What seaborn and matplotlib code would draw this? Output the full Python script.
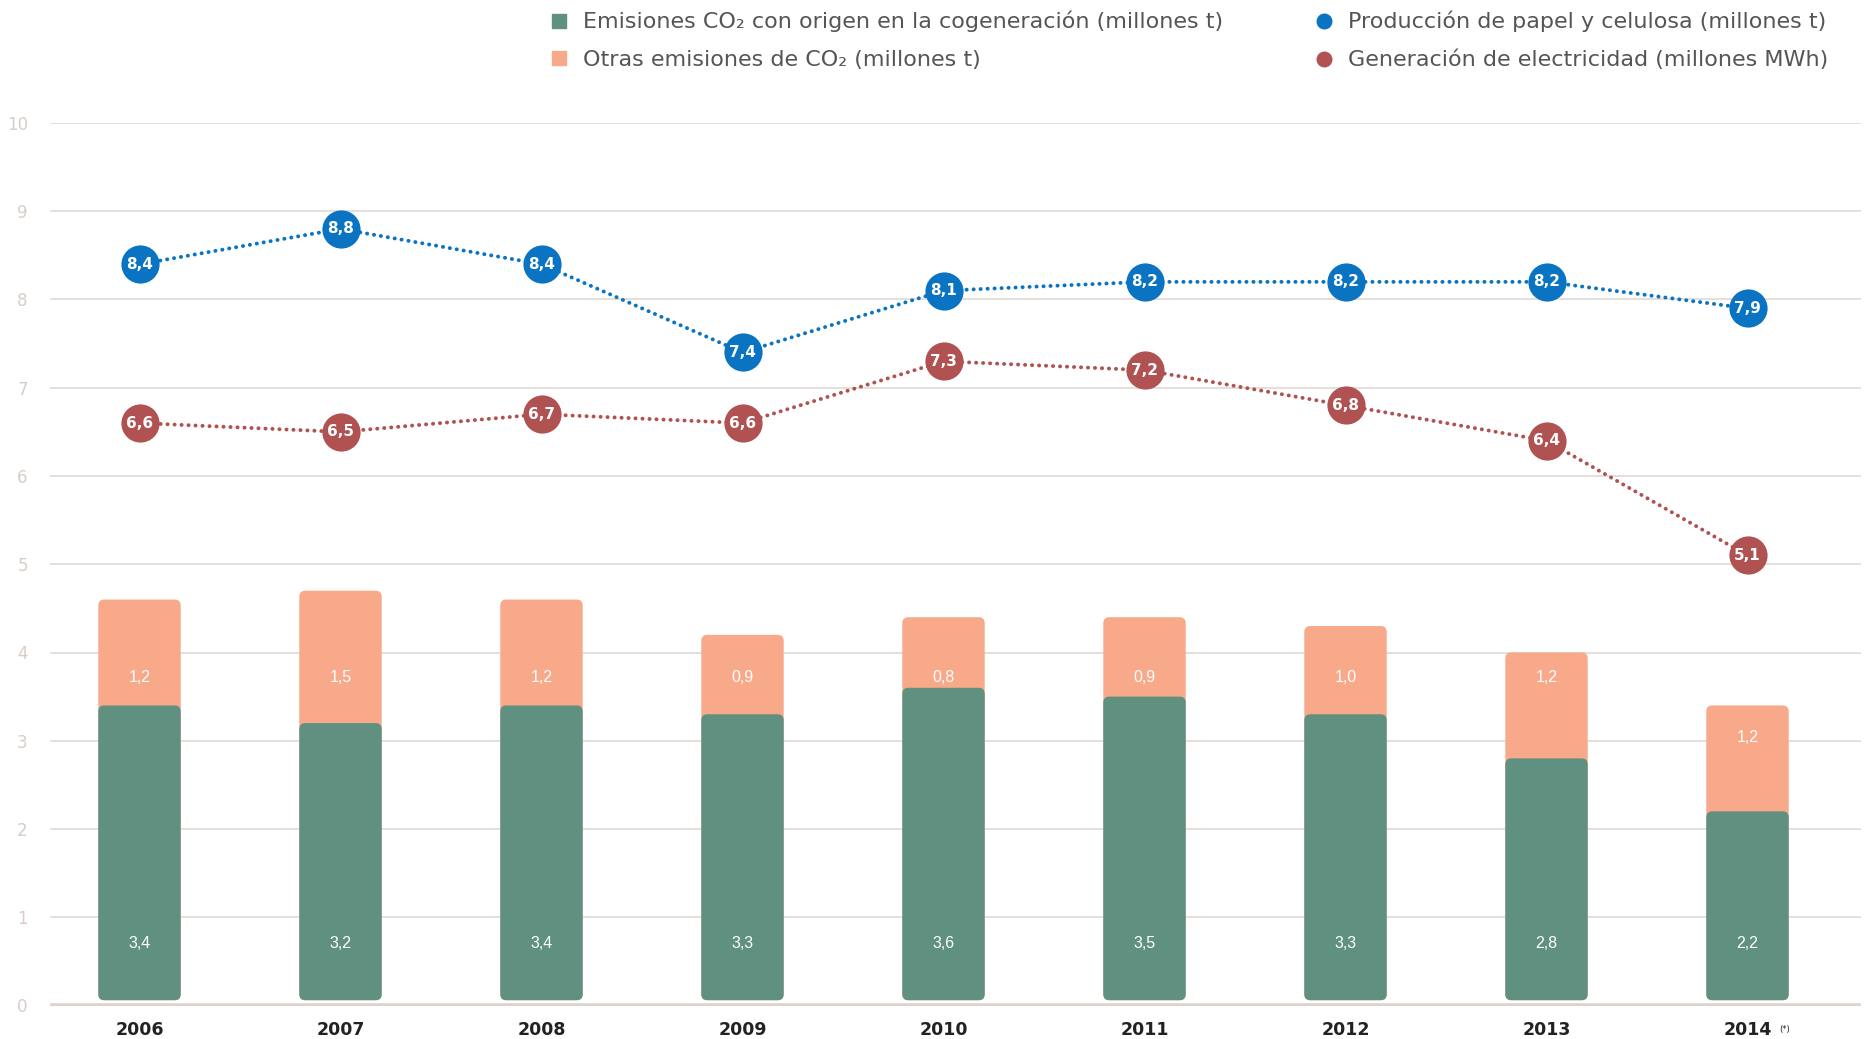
import numpy as np
import pandas as pd
import matplotlib
matplotlib.use("Agg")
import matplotlib.pyplot as plt
import seaborn as sns
from matplotlib.patches import FancyBboxPatch
from matplotlib.lines import Line2D

# ---- data ----
years = ["2006", "2007", "2008", "2009", "2010", "2011", "2012", "2013", "2014"]
cogen = [3.4, 3.2, 3.4, 3.3, 3.6, 3.5, 3.3, 2.8, 2.2]
otras = [1.2, 1.5, 1.2, 0.9, 0.8, 0.9, 1.0, 1.2, 1.2]
papel = [8.4, 8.8, 8.4, 7.4, 8.1, 8.2, 8.2, 8.2, 7.9]
electr = [6.6, 6.5, 6.7, 6.6, 7.3, 7.2, 6.8, 6.4, 5.1]
yticks = [0, 1, 2, 3, 4, 5, 6, 7, 8, 9, 10]
legend_labels = [
    "Emisiones CO₂ con origen en la cogeneración (millones t)",
    "Otras emisiones de CO₂ (millones t)",
    "Producción de papel y celulosa (millones t)",
    "Generación de electricidad (millones MWh)",
]

GREEN = "#5f9080"
SALMON = "#f7a98a"
BLUE = "#0a74c2"
RED = "#b15252"
GRID = "#e4dbd7"

sns.set_theme(style="white")
plt.rcParams["font.family"] = ["DejaVu Sans"]

W, H = 1870, 1039
fig = plt.figure(figsize=(W / 100, H / 100), dpi=100)
y0_px, y10_px = 1005.5, 123
left_px, right_px = 50, 1861
ax = fig.add_axes([left_px / W, 1 - y0_px / H, (right_px - left_px) / W, (y0_px - y10_px) / H])

df = pd.DataFrame({"year": years, "cogen": cogen, "otras": otras,
                   "papel": papel, "electr": electr})
df["total"] = df["cogen"] + df["otras"]
df["pos"] = np.arange(len(df))

sns.barplot(data=df, x="year", y="total", color=SALMON, saturation=1, width=0.41,
            ax=ax, zorder=2)
sns.barplot(data=df, x="year", y="cogen", color=GREEN, saturation=1, width=0.41,
            ax=ax, zorder=3)

# round bar corners
first_x = 139.5
step = 201.0
ppu_y = (y0_px - y10_px) / 10
rx = 6 / step
ry = 6 / ppu_y
for p in list(ax.patches):
    x, y, w, h = p.get_x(), p.get_y(), p.get_width(), p.get_height()
    fb = FancyBboxPatch((x, y + 0.06), w, h - 0.06, boxstyle=f"round,pad=0,rounding_size={rx}",
                        mutation_aspect=ry / rx, facecolor=p.get_facecolor(),
                        edgecolor="none", zorder=p.get_zorder())
    p.remove()
    ax.add_patch(fb)

# lines
for col, color in (("electr", RED), ("papel", BLUE)):
    sns.lineplot(data=df, x="pos", y=col, color=color, ax=ax, lw=2.8,
                 linestyle=(0, (0.05, 1.75)), dash_capstyle="round",
                 marker="o", markersize=27.5, markeredgewidth=0, zorder=5,
                 legend=False)
    for xi, v in zip(df["pos"], df[col]):
        ax.text(xi, v, f"{v:.1f}".replace(".", ","), ha="center", va="center",
                color="white", fontsize=11, fontweight="bold",
                family=["Liberation Sans Narrow", "DejaVu Sans"], zorder=6)

# bar labels
for xi, c, o, t in zip(df["pos"], cogen, otras, df["total"]):
    ax.text(xi, 0.7, f"{c:.1f}".replace(".", ","), ha="center", va="center",
            color="white", fontsize=11.5, family=["Liberation Sans", "DejaVu Sans"], zorder=7)
    ax.text(xi, 3.72 if t >= 3.9 else t - 0.36, f"{o:.1f}".replace(".", ","), ha="center",
            va="center", color="white", fontsize=11.5,
            family=["Liberation Sans", "DejaVu Sans"], zorder=7)

ax.set_xlim(-(first_x - left_px) / step, 8 + (right_px - (first_x + 8 * step)) / step)
ax.set_ylim(0, 10)
ax.set_yticks(yticks)
ax.set_yticklabels([str(t) for t in yticks])
ax.yaxis.grid(True, color=GRID, lw=1.3, zorder=0)
ax.xaxis.grid(False)
ax.set_axisbelow(True)
ax.axhline(0, color="#dcd3ce", lw=4, zorder=8, solid_capstyle="butt")
for s in ax.spines.values():
    s.set_visible(False)
ax.tick_params(axis="y", length=0, pad=16, labelsize=12, labelcolor="#d8cdc6")
ax.tick_params(axis="x", length=0, pad=11, labelsize=12.5, labelcolor="#222222")
for lbl in ax.get_xticklabels():
    lbl.set_fontweight("bold")
ax.set_xlabel("")
ax.set_ylabel("")
ax.annotate("(*)", xy=(8, 0), xycoords="data", xytext=(23, -17),
            textcoords="offset points", fontsize=6, color="#222222",
            ha="left", va="center", annotation_clip=False)

# legend
handles1 = [Line2D([], [], marker="s", color=GREEN, ls="none", markersize=10),
            Line2D([], [], marker="s", color=SALMON, ls="none", markersize=10)]
handles2 = [Line2D([], [], marker="o", color=BLUE, ls="none", markersize=10.5),
            Line2D([], [], marker="o", color=RED, ls="none", markersize=10.5)]
for hs, labs, xa in ((handles1, legend_labels[:2], 541 / W), (handles2, legend_labels[2:], 1306 / W)):
    leg = fig.legend(handles=hs, labels=labs, loc="upper left", bbox_to_anchor=(xa, 0.998),
                     frameon=False, fontsize=16, labelcolor="#555555",
                     handlelength=0.8, handletextpad=0.7, labelspacing=0.78,
                     borderaxespad=0)

fig.savefig("out.png", dpi=100)
